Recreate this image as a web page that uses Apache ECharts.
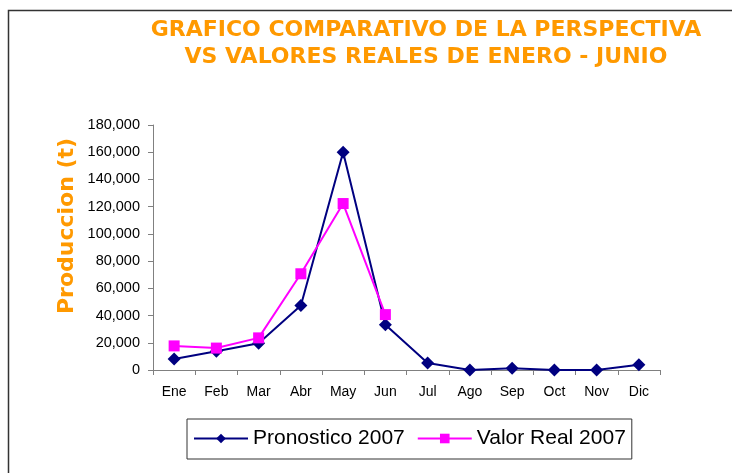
<!DOCTYPE html>
<html>
<head>
<meta charset="utf-8">
<script src="https://cdn.jsdelivr.net/npm/echarts@6/dist/echarts.min.js"></script>
<style>
	html, body { margin: 0; padding: 0; background: #fff; }
	#chart { width: 732px; height: 473px; }
</style>
</head>
<body>
<div id="chart"></div>
<script>
var meses = ['Ene', 'Feb', 'Mar', 'Abr', 'May', 'Jun', 'Jul', 'Ago', 'Sep', 'Oct', 'Nov', 'Dic'];
var pronostico = [8100, 13700, 19600, 47400, 160000, 33200, 5200, 0, 1200, 0, 0, 3900];
var valorReal = [17700, 16100, 23600, 70700, 122300, 40700];

var chart = echarts.init(document.getElementById('chart'));
var option = {
	animation: false,
	title: {
		text: 'GRAFICO COMPARATIVO DE LA PERSPECTIVA\nVS VALORES REALES DE ENERO - JUNIO',
		left: 421,
		top: 12,
		textAlign: 'center',
		textStyle: {
			color: '#ff9900',
			fontFamily: 'DejaVu Sans',
			fontWeight: 'bold',
			fontSize: 22,
			lineHeight: 27
		}
	},
	graphic: [{
		type: 'rect',
		shape: { x: 8.5, y: 10.5, width: 740, height: 480 },
		style: { fill: 'none', stroke: '#333', lineWidth: 1.5 },
		silent: true
	}, {
		// titulo del eje y
		type: 'text',
		x: 67,
		y: 226,
		rotation: Math.PI / 2,
		style: {
			text: 'Produccion (t)',
			fill: '#ff9900',
			font: 'bold 22px "DejaVu Sans"',
			textAlign: 'center',
			textVerticalAlign: 'middle'
		},
		silent: true
	}],
	grid: {
		left: 153,
		right: 72,
		top: 125,
		bottom: 103
	},
	legend: {
		data: ['Pronostico 2007', 'Valor Real 2007'],
		left: 187,
		top: 419,
		itemWidth: 54,
		itemHeight: 12,
		itemGap: 12,
		padding: [9, 6, 10, 6],
		borderColor: '#333',
		borderWidth: 1,
		textStyle: {
			fontFamily: 'Liberation Sans',
			fontSize: 21,
			color: '#000'
		}
	},
	xAxis: {
		type: 'category',
		data: meses,
		boundaryGap: true,
		axisLine: { lineStyle: { color: '#808080', width: 1 } },
		axisTick: { show: true, interval: 0, length: 5, lineStyle: { color: '#808080' } },
		axisLabel: {
			color: '#000',
			fontFamily: 'Liberation Sans',
			fontSize: 14,
			margin: 15,
			interval: 0
		},
		splitLine: { show: false }
	},
	yAxis: {
		type: 'value',
		min: 0,
		max: 180000,
		interval: 20000,
		axisLine: { show: true, lineStyle: { color: '#808080', width: 1 } },
		axisTick: { show: true, length: 5, lineStyle: { color: '#808080' } },
		axisLabel: {
			color: '#000',
			fontFamily: 'Liberation Sans',
			fontSize: 14.5,
			margin: 13,
			formatter: function (v) {
				return v.toString().replace(/\B(?=(\d{3})+(?!\d))/g, ',');
			}
		},
		splitLine: { show: false }
	},
	series: [{
		name: 'Pronostico 2007',
		type: 'line',
		data: pronostico,
		symbol: 'diamond',
		symbolSize: 13,
		lineStyle: { color: '#000080', width: 2 },
		itemStyle: { color: '#000080' }
	}, {
		name: 'Valor Real 2007',
		type: 'line',
		data: valorReal,
		symbol: 'rect',
		symbolSize: 11,
		lineStyle: { color: '#ff00ff', width: 2 },
		itemStyle: { color: '#ff00ff' }
	}]
};
chart.setOption(option);
</script>
</body>
</html>
